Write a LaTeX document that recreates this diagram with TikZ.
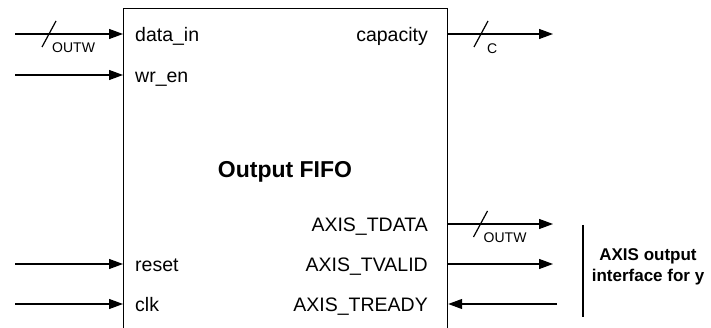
\documentclass[tikz,border=0pt]{standalone}
\usepackage{fontspec}
\setmainfont{Liberation Sans}
\usetikzlibrary{arrows.meta, positioning}
\tikzset{
  blockbox/.style={rectangle, draw, line width=1.2pt, anchor=north west,
    inner sep=0pt, minimum width=324pt, minimum height=340pt},
  portlbl/.style={inner sep=0pt, font=\fontsize{19.5}{22}\selectfont},
  buslbl/.style={inner sep=0pt, font=\fontsize{14}{16}\selectfont},
  sig/.style={-{Triangle[length=14pt, width=10pt]}, line width=1.2pt},
  line/.style={line width=1.2pt}
}

\begin{document}
\begin{tikzpicture}[x=1pt, y=-1pt]
  \useasboundingbox (0,0) rectangle (711,328);
  \node[blockbox] (fifo) at (123,8) {};
  \node[font=\bfseries\fontsize{23}{26}\selectfont] (title) at (285,172) {Output FIFO};

  % ports inside the block
  \node[portlbl, anchor=base west] (din) at (135,41.5) {data\_in};
  \node[portlbl, anchor=base west] (wren) at (135,82.5) {wr\_en};
  \node[portlbl, anchor=base west] (rst) at (135,271.5) {reset};
  \node[portlbl, anchor=base west] (clk) at (135,311.5) {clk};
  \node[portlbl, anchor=base east] (cap) at (428,41.5) {capacity};
  \node[portlbl, anchor=base east] (tdata) at (428,231.5) {AXIS\_TDATA};
  \node[portlbl, anchor=base east] (tvalid) at (428,271.5) {AXIS\_TVALID};
  \node[portlbl, anchor=base east] (tready) at (428,311.5) {AXIS\_TREADY};

  % signals
  \coordinate (din-src) at (15,34);
  \coordinate (wren-src) at (15,75);
  \coordinate (rst-src) at (15,264);
  \coordinate (clk-src) at (15,304);
  \coordinate (cap-dst) at (553,34);
  \coordinate (tdata-dst) at (553,224);
  \coordinate (tvalid-dst) at (553,264);
  \coordinate (tready-src) at (557,304);
  \draw[sig] (din-src) -- (din-src -| fifo.west);
  \draw[sig] (wren-src) -- (wren-src -| fifo.west);
  \draw[sig] (rst-src) -- (rst-src -| fifo.west);
  \draw[sig] (clk-src) -- (clk-src -| fifo.west);
  \draw[sig] (cap-dst -| fifo.east) -- (cap-dst);
  \draw[sig] (tdata-dst -| fifo.east) -- (tdata-dst);
  \draw[sig] (tvalid-dst -| fifo.east) -- (tvalid-dst);
  \draw[sig] (tready-src) -- (tready-src -| fifo.east);

  % bus widths
  \coordinate (din-bus) at (49,34);
  \coordinate (cap-bus) at (481,34);
  \coordinate (tdata-bus) at (480.5,224);
  \draw[line] (din-bus) ++(-7,13) -- ++(14,-26);
  \draw[line] (cap-bus) ++(-7,13) -- ++(14,-26);
  \draw[line] (tdata-bus) ++(-7,13) -- ++(14,-26);
  \node[buslbl, below right=9pt and 3pt of din-bus] (din-w) {OUTW};
  \node[buslbl, below right=10pt and 6pt of cap-bus] (cap-w) {C};
  \node[buslbl, below right=9pt and 3pt of tdata-bus] (tdata-w) {OUTW};

  % interface note
  \node[font=\bfseries\fontsize{17}{21}\selectfont, align=center] (axis) at (648,267)
    {AXIS output\\interface for y};
  \draw[line] (583,225) -- (583,317);
\end{tikzpicture}
\end{document}
